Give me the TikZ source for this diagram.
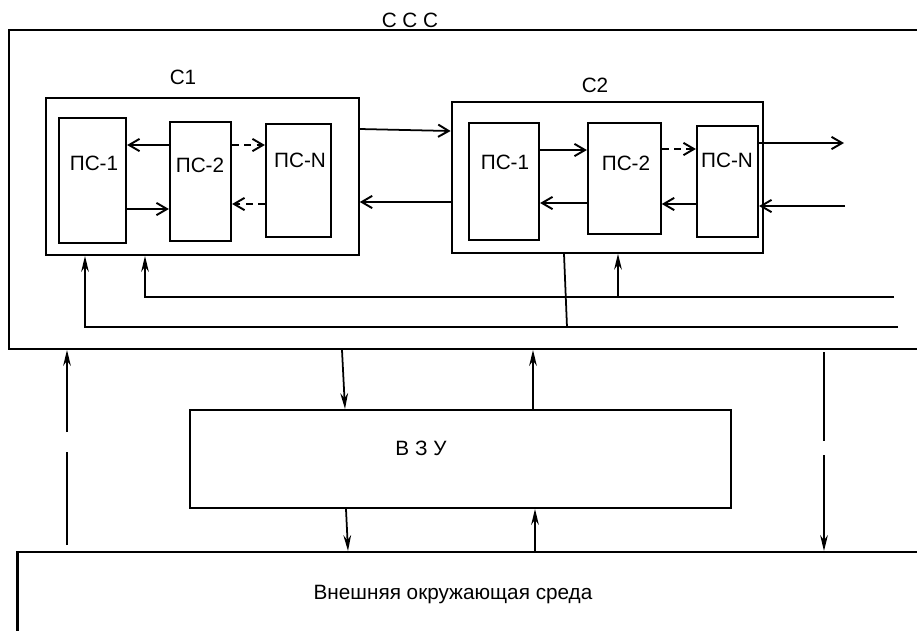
\documentclass[tikz,border=0pt]{standalone}
\usepackage{fontspec}
\setmainfont{Liberation Sans}
\usetikzlibrary{arrows.meta,fit}
\tikzset{
  box/.style={draw,line width=1.25pt,inner sep=0pt},
  lbl/.style={font=\fontsize{11.8}{14}\selectfont,inner sep=1pt},
  harr/.style={line width=1pt,-{Straight Barb[length=6pt,width=7pt,line width=1.1pt]}},
  varr/.style={line width=1pt,-{Stealth[length=9pt,width=4.4pt]}},
  dsh/.style={dash pattern=on 4pt off 3pt}
}
\begin{document}
\begin{tikzpicture}[x=0.02cm,y=-0.02cm]
  \clip (0,0) rectangle (917,630);
  % outer system and environment
  \node[box,fit={(9,30) (940,349)}] (sss) {};
  \node[lbl] (sssl) at (410,20) {С С С};
  \node[box,fit={(17.5,552) (940,650)}] (env) {};
  \node[lbl] (envl) at (453,595) {Внешняя окружающая среда};
  \node[box,fit={(190,410) (731,508)}] (vzu) {};
  \node[lbl] (vzul) at (421,448) {В З У};

  % subsystem C1
  \node[box,fit={(45.7,98) (358.7,255)}] (c1) {};
  \node[lbl] (c1l) at (183,77) {С1};
  \node[box,fit={(59,118) (126,243)}] (c1p1) {};
  \node[box,fit={(170,122) (231,241)}] (c1p2) {};
  \node[box,fit={(266,124) (331,237)}] (c1pn) {};
  \node[lbl] (c1t1) at (94,163) {ПС-1};
  \node[lbl] (c1t2) at (200,165) {ПС-2};
  \node[lbl] (c1tn) at (300,160) {ПС-N};

  % subsystem C2
  \node[box,fit={(451.7,101.7) (763,252.7)}] (c2) {};
  \node[lbl] (c2l) at (595,85) {С2};
  \node[box,fit={(469,122.7) (539,240)}] (c2p1) {};
  \node[box,fit={(588,122.7) (660.7,234)}] (c2p2) {};
  \node[box,fit={(697,125.7) (758,236.7)}] (c2pn) {};
  \node[lbl] (c2t1) at (505,162) {ПС-1};
  \node[lbl] (c2t2) at (626,163) {ПС-2};
  \node[lbl] (c2tn) at (727,160) {ПС-N};

  \coordinate (out) at (844,143);
  \coordinate (in) at (845,206);
  \coordinate (bus1) at (894,297);
  \coordinate (bus2) at (898,327);
  \coordinate (tap) at (618,297);
  \coordinate (drop) at (567,327);

  % links inside C1
  \draw[harr] (c1p2.west |- 0,145) -- (c1p1.east |- 0,145);
  \draw[harr] (c1p1.east |- 0,209) -- (c1p2.west |- 0,209);
  \draw[harr,dsh] (c1p2.east |- 0,145) -- (c1pn.west |- 0,145);
  \draw[harr,dsh] (c1pn.west |- 0,204) -- (c1p2.east |- 0,204);

  % links between C1 and C2
  \draw[harr] (c1.east |- 0,129) -- (c2.west |- 0,131);
  \draw[harr] (c2.west |- 0,202) -- (c1.east |- 0,202);

  % links inside C2
  \draw[harr] (c2p1.east |- 0,150) -- (c2p2.west |- 0,150);
  \draw[harr] (c2p2.west |- 0,203) -- (c2p1.east |- 0,203);
  \draw[harr,dsh] (c2p2.east |- 0,149) -- (c2pn.west |- 0,149);
  \draw[harr] (c2pn.west |- 0,204) -- (c2p2.east |- 0,204);
  \draw[harr] (c2pn.east |- out) -- (out);
  \draw[harr] (in) -- (c2pn.east |- in);

  % buses
  \draw[varr] (bus1) -| (c1.south -| 145,0);
  \draw[varr] (bus2) -| (c1.south -| 85,0);
  \draw[varr] (tap) -- (c2.south -| tap);
  \draw[line width=1pt] (c2.south -| 564,0) -- (drop);

  % exchange with the environment
  \draw[varr] (67,545) -- (67,452) (67,432) -- (sss.south -| 67,0);
  \draw[varr] (sss.south -| 342,0) -- (vzu.north -| 345,0);
  \draw[varr] (vzu.north -| 533,0) -- (sss.south -| 533,0);
  \draw[varr] (vzu.south -| 346,0) -- (env.north -| 348,0);
  \draw[varr] (env.north -| 535,0) -- (vzu.south -| 535,0);
  \draw[varr] (824,352) -- (824,441) (824,455) -- (env.north -| 824,0);
\end{tikzpicture}
\end{document}
